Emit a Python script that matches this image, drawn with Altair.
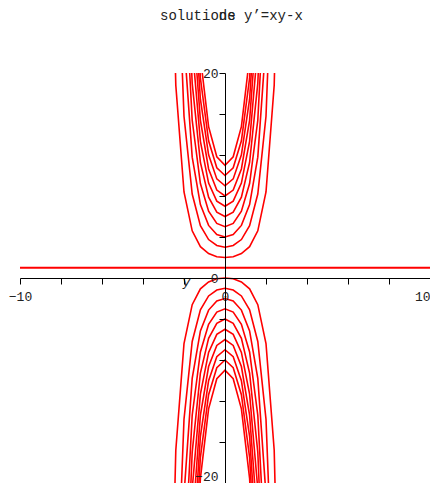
import altair as alt
import pandas as pd

# Half-profiles (x >= 0) of the solution curves y = 1 + C*exp(x^2/2), read/estimated at these abscissae
x_half = [0.0, 0.4, 0.8, 1.2, 1.6, 2.0, 2.4, 2.8]

upper_curves = [
    [2, 2.08, 2.38, 3.05, 4.60, 8.39, 18.81, 51.40],
    [3, 3.17, 3.75, 5.11, 8.19, 15.78, 36.63],
    [4, 4.25, 5.13, 7.16, 11.79, 23.17],
    [5, 5.33, 6.51, 9.22, 15.39, 30.56],
    [6, 6.42, 7.89, 11.27, 18.98, 37.95],
    [7, 7.50, 9.26, 13.33, 22.58],
    [8, 8.58, 10.64, 15.38, 26.18],
    [9, 9.67, 12.02, 17.44, 29.77],
    [10, 10.75, 13.39, 19.49, 33.37],
    [11, 11.83, 14.77, 21.54],
]
lower_curves = [
    [0, -0.08, -0.38, -1.05, -2.60, -6.39, -16.81, -49.40],
    [-1, -1.17, -1.75, -3.11, -6.19, -13.78, -34.63],
    [-2, -2.25, -3.13, -5.16, -9.79, -21.17],
    [-3, -3.33, -4.51, -7.22, -13.39, -28.56],
    [-4, -4.42, -5.89, -9.27, -16.98, -35.95],
    [-5, -5.50, -7.26, -11.33, -20.58],
    [-6, -6.58, -8.64, -13.38, -24.18],
    [-7, -7.67, -10.02, -15.44, -27.77],
    [-8, -8.75, -11.39, -17.49, -31.37],
    [-9, -9.83, -12.77, -19.54, -34.97],
]
hline_x = [-10, 10]
hline_y = [1, 1]

x_ticks = list(range(-10, 11))
y_ticks = list(range(-20, 21, 2))
title_a = "solutions"
title_b = "de y\u2019=xy-x"
y_name = "y"

rows = []
for cid, ys in enumerate(upper_curves + lower_curves):
    xs = x_half[:len(ys)]
    pts = [(-xs[k], ys[k]) for k in range(len(ys) - 1, 0, -1)] + [(xs[k], ys[k]) for k in range(len(ys))]
    for o, (xv, yv) in enumerate(pts):
        rows.append({"x": xv, "y": yv, "curve": cid, "order": o})
df = pd.DataFrame(rows)
hdf = pd.DataFrame({"x": hline_x, "y": hline_y})

FONT = "Liberation Mono"
W, H = 410, 410

x_axis = alt.Axis(values=x_ticks, labelExpr="datum.value % 5 == 0 ? datum.label : ''",
                  offset=-205, tickSize=6, labelPadding=6, title=None, grid=False,
                  domainColor="#000", tickColor="#000", labelColor="#222",
                  labelFont=FONT, labelFontSize=13, labelFlush=False, labelOverlap=False,
                  labelAlign={"condition": {"test": "datum.value == 10", "value": "right"}, "value": "center"},
                  zindex=1)
y_axis = alt.Axis(values=y_ticks, labelExpr="datum.value % 10 == 0 ? datum.label : ''",
                  offset=-205, tickSize=6, labelPadding=1, title=None, grid=False,
                  domainColor="#000", tickColor="#000", labelColor="#222",
                  labelFont=FONT, labelFontSize=13, labelFlush=False, labelOverlap=False,
                  labelBaseline={"condition": {"test": "datum.value == -20", "value": "bottom"}, "value": "middle"},
                  zindex=1)

xs_ = alt.Scale(domain=[-10, 10], nice=False, zero=False)
ys_ = alt.Scale(domain=[-20, 20], nice=False, zero=False)

curves = alt.Chart(df).mark_line(color="#ff0000", strokeWidth=1.6, clip=True).encode(
    x=alt.X("x:Q", scale=xs_, axis=x_axis),
    y=alt.Y("y:Q", scale=ys_, axis=y_axis),
    detail="curve:N",
    order="order:Q",
)
hline = alt.Chart(hdf).mark_line(color="#ff0000", strokeWidth=2, clip=True).encode(
    x=alt.X("x:Q", scale=xs_),
    y=alt.Y("y:Q", scale=ys_),
)

tdf = pd.DataFrame({"a": [title_a], "b": [title_b], "n": [y_name]})
t1 = alt.Chart(tdf).mark_text(font=FONT, fontSize=14, align="left", baseline="alphabetic", color="#222").encode(
    text="a:N", x=alt.value(140), y=alt.value(-53.5))
t2 = alt.Chart(tdf).mark_text(font=FONT, fontSize=14, align="left", baseline="alphabetic", color="#222").encode(
    text="b:N", x=alt.value(198.8), y=alt.value(-53.5))
t3 = alt.Chart(tdf).mark_text(font=FONT, fontSize=13, align="center", baseline="middle", color="#222",
                              fontStyle="italic").encode(
    text="n:N", x=alt.value(166.5), y=alt.value(208.5))

chart = alt.layer(curves, hline, t1, t2, t3).properties(
    width=W, height=H,
    autosize=alt.AutoSizeParams(type="none"),
    padding={"left": 12, "top": 65, "right": 0, "bottom": 0},
).configure_view(stroke=None)

chart.save("out.html", embed_options={"renderer": "svg", "actions": False})
